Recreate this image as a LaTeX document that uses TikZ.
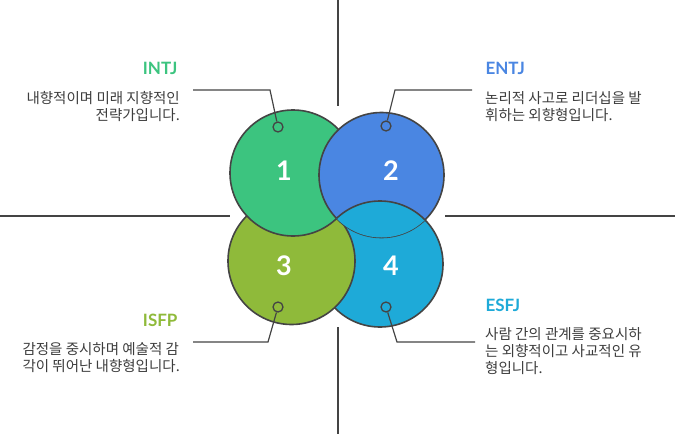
\documentclass[tikz,border=0pt]{standalone}
\usepackage{fontspec}
\setmainfont{Lato}
\newfontfamily\kr{Noto Sans CJK KR}
\definecolor{cA}{HTML}{3CC47F}
\definecolor{cB}{HTML}{4A86E2}
\definecolor{cC}{HTML}{8FBA3A}
\definecolor{cD}{HTML}{1EAAD8}
\definecolor{ln}{HTML}{444444}
\begin{document}
\begin{tikzpicture}[x=1pt,y=-1pt,
  circ/.style={draw=ln,line width=1.6pt},
  num/.style={text=white,font=\bfseries\fontsize{27}{27}\selectfont},
  ring/.style={draw=ln,line width=1.3pt,circle,inner sep=0,minimum size=10pt},
  lead/.style={draw=ln,line width=1.2pt},
  axis/.style={draw=ln,line width=1.2pt},
  ttl/.style={font=\bfseries\fontsize{17}{17}\selectfont},
  body/.style={font=\kr\fontsize{14.5}{17}\selectfont,text=ln!90!black,inner sep=0}]
\useasboundingbox (0,0) rectangle (675,434);
\draw[axis] (338,0) -- (338,106);
\draw[axis] (338,327) -- (338,434);
\draw[axis] (0,216) -- (230,216);
\draw[axis] (445,216) -- (675,216);
\fill[cD] (380,264) circle (63); \draw[circ] (380,264) circle (63);
\fill[cC] (291.5,261) circle (63.5); \draw[circ] (291.5,261) circle (63.5);
\fill[cA] (293,173) circle (63); \draw[circ] (293,173) circle (63);
\fill[cB] (381.5,175) circle (62.5); \draw[circ] (381.5,175) circle (62.5);
\begin{scope}
\clip (381.5,175) circle (62.5);
\fill[cD] (380,264) circle (63); \draw[circ] (380,264) circle (63);
\end{scope}
\node[num] (n1) at (284,171) {1};
\node[num] (n2) at (391,171) {2};
\node[num] (n3) at (284,266) {3};
\node[num] (n4) at (391,266) {4};
\node[ring,fill=cA] (r1) at (278,127) {};
\node[ring,fill=cB] (r2) at (386,126) {};
\node[ring,fill=cC] (r3) at (278,307) {};
\node[ring,fill=cD] (r4) at (386,307) {};
\coordinate (k1) at (270,90); \coordinate (e1) at (193,90);
\coordinate (k2) at (395,90); \coordinate (e2) at (472,90);
\coordinate (k3) at (268,342); \coordinate (e3) at (193,342);
\coordinate (k4) at (397,342); \coordinate (e4) at (475,342);
\draw[lead] (r1) -- (k1) -- (e1);
\draw[lead] (r2) -- (k2) -- (e2);
\draw[lead] (r3) -- (k3) -- (e3);
\draw[lead] (r4) -- (k4) -- (e4);
\node[ttl,text=cA,anchor=east] (t1) at (181,68) {INTJ};
\node[ttl,text=cB,anchor=west] (t2) at (482,68) {ENTJ};
\node[ttl,text=cC,anchor=east] (t3) at (181,320) {ISFP};
\node[ttl,text=cD,anchor=west] (t4) at (482,305) {ESFJ};
\node[body,anchor=north east,align=right] (b1) at (180,91) {내향적이며 미래 지향적인\\전략가입니다.};
\node[body,anchor=north west,align=left] (b2) at (485,91) {논리적 사고로 리더십을 발\\휘하는 외향형입니다.};
\node[body,anchor=north east,align=left] (b3) at (180,342) {감정을 중시하며 예술적 감\\각이 뛰어난 내향형입니다.};
\node[body,anchor=north west,align=left] (b4) at (485,327) {사람 간의 관계를 중요시하\\는 외향적이고 사교적인 유\\형입니다.};
\end{tikzpicture}
\end{document}
